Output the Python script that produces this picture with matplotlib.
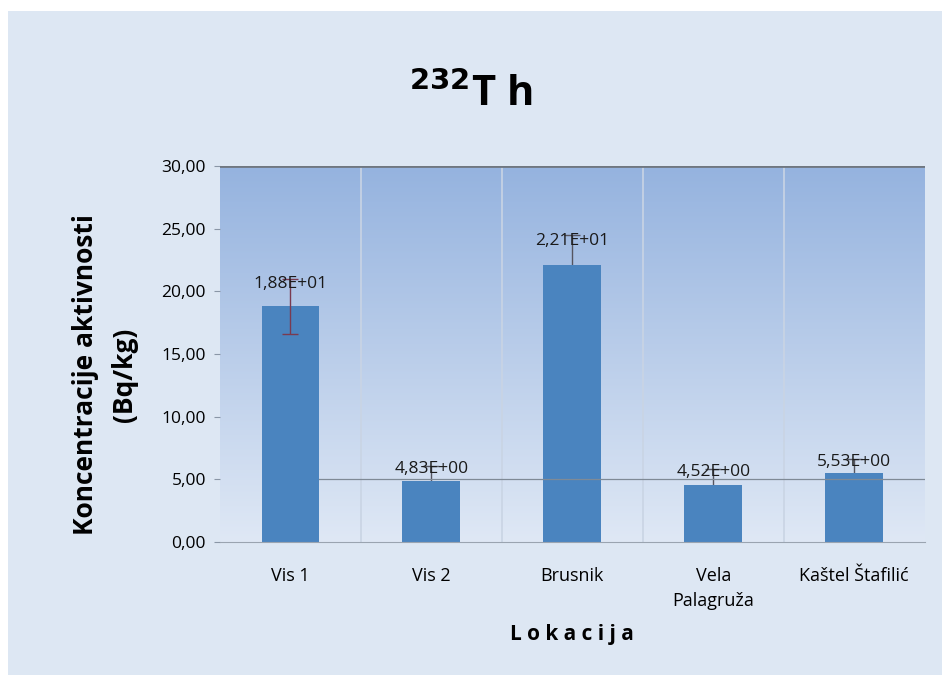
import numpy as np
import matplotlib
matplotlib.use('Agg')
import matplotlib.pyplot as plt
from matplotlib.colors import LinearSegmentedColormap
from matplotlib.patches import Rectangle

# data
locations = ['Vis 1', 'Vis 2', 'Brusnik', 'Vela\nPalagruža', 'Kaštel Štafilić']
values = [18.8, 4.83, 22.1, 4.52, 5.53]
errors = [2.2, 1.2, 2.4, 1.3, 1.1]
value_labels = ['1,88E+01', '4,83E+00', '2,21E+01', '4,52E+00', '5,53E+00']
yticks = [0, 5, 10, 15, 20, 25, 30]

plt.rcParams['font.family'] = ['Open Sans', 'DejaVu Sans']

fig = plt.figure(figsize=(9.42, 6.75), dpi=100)
fig.patch.set_facecolor('white')
# light panel behind the chart, white strip on top and left
fig.patches.append(Rectangle((0.009, 0), 0.991, 0.983, transform=fig.transFigure,
                             facecolor='#dde7f3', edgecolor='none', zorder=-10))

ax = fig.add_axes([0.2335, 0.197, 0.748, 0.557])
ax.set_facecolor('none')

x = np.arange(len(locations))
ax.set_xlim(-0.5, len(locations) - 0.5)
ax.set_ylim(0, 30)

# gradient plot area
grad = LinearSegmentedColormap.from_list('bg', ['#dfe8f5', '#95b3df'])
ax.imshow(np.linspace(0, 1, 256).reshape(-1, 1), cmap=grad, aspect='auto',
          extent=(-0.5, len(locations) - 0.5, 0, 30), origin='lower', zorder=0)

# category separators
for sx in x[:-1] + 0.5:
    ax.axvline(sx, color='#c9d4e4', lw=1.2, zorder=1)
ax.axhline(5, xmin=0.14, xmax=1.0, color='#7f8a96', lw=0.9, zorder=3)
ax.axhline(30, color='#6f7780', lw=2, zorder=3)

ax.bar(x, values, width=0.41, color='#4a84bf', zorder=2)
# error bars: only the first one shows over its bar
for i, (xi, v, e) in enumerate(zip(x, values, errors)):
    ax.errorbar(xi, v, yerr=e, fmt='none', ecolor='#7a3a50' if i == 0 else '#555560',
                elinewidth=1, capsize=6, capthick=1, zorder=4 if i == 0 else 1.5)

for xi, v, e, lab in zip(x, values, errors, value_labels):
    ax.text(xi, v + e * 0.8, lab, ha='center', va='center', fontsize=12.5,
            color='#1a1a1a', zorder=5)

ax.set_yticks(yticks)
ax.set_yticklabels(['{:.2f}'.format(t).replace('.', ',') for t in yticks], fontsize=12.5)
ax.set_xticks(x)
ax.set_xticklabels(locations, fontsize=13, linespacing=1.5)
ax.tick_params(axis='x', length=0, pad=18)
ax.tick_params(axis='y', length=4, color='#8a96a6', pad=6)

for side in ['top', 'right', 'left']:
    ax.spines[side].set_visible(False)
ax.spines['bottom'].set_color('#9aa4b0')

ax.set_xlabel('L o k a c i j a', fontsize=15, fontweight='bold', labelpad=10)
ax.set_ylabel('Koncentracije aktivnosti\n(Bq/kg)', fontsize=19, fontweight='bold',
              linespacing=1.6)
ax.yaxis.set_label_coords(-0.116, 0.445)

fig.text(0.5, 0.86, r'$^{\mathbf{232}}$T h', ha='center', va='center', fontsize=30,
         fontweight='bold')

fig.savefig('out.png', dpi=100)
